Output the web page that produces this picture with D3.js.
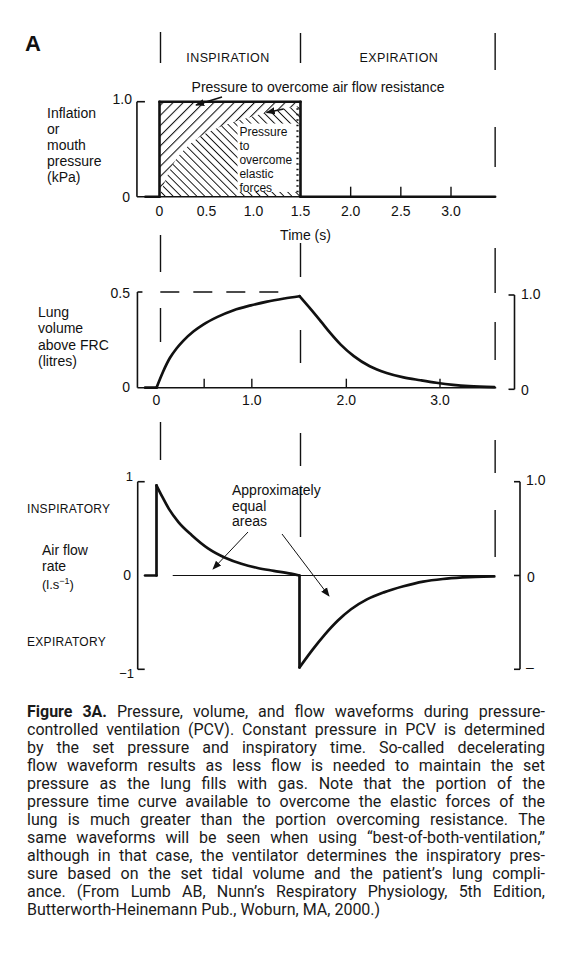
<!DOCTYPE html>
<html><head><meta charset="utf-8">
<script src="https://cdn.jsdelivr.net/npm/d3@7"></script>
<style>body{margin:0;background:#fff}svg{display:block}</style>
</head><body>
<script>
// ---------------- DATA ----------------
const phaseLabels = ["INSPIRATION", "EXPIRATION"];
const phaseLabelTimes = [0.75, 2.5];
const phaseTimes = [0, 1.5, 3.44];

const pressureTimes  = [-0.15, 0, 0, 1.5, 1.5, 3.44];
const pressureValues = [0, 0, 1, 1, 0, 0];
const elasticTimes  = [0, 0.07, 0.15, 0.29, 0.5, 0.64, 0.78, 0.99, 1.21, 1.5];
const elasticValues = [0, 0.19, 0.35, 0.52, 0.67, 0.735, 0.785, 0.845, 0.905, 0.955];

const volumeTimes  = [-0.12, 0, 0.07, 0.14, 0.21, 0.28, 0.39, 0.49, 0.64, 0.81, 0.99, 1.16, 1.34, 1.5,
                      1.62, 1.73, 1.83, 1.94, 2.08, 2.25, 2.43, 2.61, 2.79, 2.96, 3.14, 3.31, 3.58];
const volumeValues = [0, 0, 0.085, 0.155, 0.205, 0.245, 0.295, 0.33, 0.37, 0.405, 0.43, 0.45, 0.466, 0.478,
                      0.41, 0.345, 0.285, 0.225, 0.165, 0.112, 0.077, 0.054, 0.039, 0.026, 0.015, 0.008, 0.003];

const flowTimes  = [-0.12, 0, 0, 0.06, 0.13, 0.23, 0.37, 0.54, 0.72, 0.89, 1.06, 1.23, 1.41, 1.5,
                    1.5, 1.64, 1.77, 1.91, 2.05, 2.22, 2.40, 2.61, 2.82, 3.03, 3.24, 3.38, 3.58];
const flowValues = [0, 0, 0.96, 0.84, 0.71, 0.57, 0.43, 0.29, 0.19, 0.125, 0.08, 0.05, 0.02, 0,
                    -0.98, -0.79, -0.63, -0.48, -0.36, -0.255, -0.18, -0.115, -0.065, -0.037, -0.021, -0.014, -0.01];

const pressureTickValues = [0, 0.5, 1, 1.5, 2, 2.5, 3];
const pressureTickLabels = ["0", "0.5", "1.0", "1.5", "2.0", "2.5", "3.0"];
const pressureTickMarks  = [2, 2.5, 3];
const volumeTickValues = [0, 1, 2, 3];
const volumeTickLabels = ["0", "1.0", "2.0", "3.0"];
const volumeTickMarks  = [0.5, 1, 2, 3];

const captionLines = [
  "Figure 3A. Pressure, volume, and flow waveforms during pressure-",
  "controlled ventilation (PCV). Constant pressure in PCV is determined",
  "by the set pressure and inspiratory time. So-called decelerating",
  "flow waveform results as less flow is needed to maintain the set",
  "pressure as the lung fills with gas. Note that the portion of the",
  "pressure time curve available to overcome the elastic forces of the",
  "lung is much greater than the portion overcoming resistance. The",
  "same waveforms will be seen when using \u201cbest-of-both-ventilation,\u201d",
  "although in that case, the ventilator determines the inspiratory pres-",
  "sure based on the set tidal volume and the patient\u2019s lung compli-",
  "ance. (From Lumb AB, Nunn\u2019s Respiratory Physiology, 5th Edition,",
  "Butterworth-Heinemann Pub., Woburn, MA, 2000.)"
];
const captionBoldWords = 2;

// ---------------- SETUP ----------------
const W = 565, H = 957;
const INK = "#111";
const FONT = "'Liberation Sans', Arial, Helvetica, sans-serif";
const CAPFONT = "Roboto, 'Liberation Sans', Arial, sans-serif";

const svg = d3.select("body").append("svg").attr("width", W).attr("height", H)
  .attr("font-family", FONT).attr("fill", INK);
svg.append("rect").attr("width", W).attr("height", H).attr("fill", "#fff");

const defs = svg.append("defs");
function hatch(id, size, angle, sw) {
  const p = defs.append("pattern").attr("id", id).attr("patternUnits", "userSpaceOnUse")
    .attr("width", size).attr("height", size).attr("patternTransform", `rotate(${angle})`);
  p.append("line").attr("x1", 0).attr("y1", 0).attr("x2", 0).attr("y2", size)
    .attr("stroke", INK).attr("stroke-width", sw);
}
hatch("hatchRes", 7.2, 45, 2.1);
hatch("hatchEl", 5.6, -45, 1.9);
defs.append("marker").attr("id", "arr").attr("viewBox", "0 0 10 10").attr("refX", 9).attr("refY", 5)
  .attr("markerWidth", 9).attr("markerHeight", 9).attr("markerUnits", "userSpaceOnUse").attr("orient", "auto")
  .append("path").attr("d", "M0,1 L10,5 L0,9 Z").attr("fill", INK);

// scales
const xP = d3.scaleLinear().domain([0, 1.5, 3]).range([159.5, 300.5, 451]);
const yP = d3.scaleLinear().domain([0, 1]).range([196.7, 101.7]);
const xV = d3.scaleLinear().domain([0, 1.5, 3]).range([156.5, 299.5, 440]);
const yV = d3.scaleLinear().domain([0, 0.5]).range([387.7, 292]);
const yVR = d3.scaleLinear().domain([0, 1]).range([389.3, 295]);
const yF = d3.scaleLinear().domain([-1, 1]).range([669.3, 481.7]);
const yFR = yF;

const line = (x1, y1, x2, y2, sw = 1.5) => svg.append("line")
  .attr("x1", x1).attr("y1", y1).attr("x2", x2).attr("y2", y2)
  .attr("stroke", INK).attr("stroke-width", sw);
const text = (x, y, s, size = 14, anchor = "start", extra = {}) => {
  const t = svg.append("text").attr("x", x).attr("y", y).attr("font-size", size)
    .attr("text-anchor", anchor).text(s);
  Object.entries(extra).forEach(([k, v]) => t.attr(k, v));
  return t;
};

function pieces(ts, vs, breaks) {
  const pts = ts.map((t, i) => [t, vs[i]]);
  const out = []; let cur = [pts[0]];
  for (let i = 1; i < pts.length; i++) {
    const p = pts[i], last = cur[cur.length - 1];
    if (p[0] === last[0]) {
      if (cur.length > 1) out.push(cur);
      out.push([last, p]); cur = [p];
    } else {
      cur.push(p);
      if (breaks.includes(p[0])) { out.push(cur); cur = [p]; }
    }
  }
  if (cur.length > 1) out.push(cur);
  return out;
}
function drawSeries(ts, vs, x, y, breaks, sw) {
  pieces(ts, vs, breaks).forEach(pc => {
    const gen = d3.line().x(d => x(d[0])).y(d => y(d[1]))
      .curve(pc.length > 2 ? d3.curveMonotoneX : d3.curveLinear);
    svg.append("path").attr("d", gen(pc)).attr("fill", "none").attr("stroke", INK)
      .attr("stroke-width", sw).attr("stroke-linejoin", "round").attr("stroke-linecap", "round");
  });
}

// ---------------- TITLE & PHASE MARKERS ----------------
text(25, 51, "A", 22, "start", {"font-weight": "bold"});
phaseLabels.forEach((l, i) => text(xP(phaseLabelTimes[i]) - 2, 62, l, 12.5, "middle", {"letter-spacing": 0.4}));

const markerSegments = [
  [[32, 63], [235, 272], [308, 342], [422, 460]],
  [[33, 63], [243, 277], [330, 363], [433, 466], [488, 537]],
  [[33, 70], [127, 167], [248, 293], [322, 360], [440, 473], [510, 557]]
];
phaseTimes.forEach((t, i) => {
  const x = xP(t) + (i === 0 ? 1 : 0);
  markerSegments[i].forEach(s => line(x, s[0], x, s[1], 1.4));
});

// ---------------- PANEL 1: PRESSURE ----------------
const elasticPts = elasticTimes.map((t, i) => [t, elasticValues[i]]);
svg.append("path").attr("fill", "url(#hatchRes)")
  .attr("d", d3.area().x(d => xP(d[0])).y0(d => yP(d[1])).y1(yP(1)).curve(d3.curveMonotoneX)(elasticPts));
svg.append("path").attr("fill", "url(#hatchEl)")
  .attr("d", d3.area().x(d => xP(d[0])).y0(yP(0)).y1(d => yP(d[1])).curve(d3.curveMonotoneX)(elasticPts));
// white box for the inner label
svg.append("rect").attr("x", xP(0.83)).attr("y", yP(0.77)).attr("width", xP(1.49) - xP(0.83))
  .attr("height", yP(0.05) - yP(0.77)).attr("fill", "#fff");
// dotted right edge of the elastic region
line(xP(1.5) - 3, yP(0.93), xP(1.5) - 3, yP(0), 2.2).attr("stroke-dasharray", "1.5,4");
["Pressure", "to", "overcome", "elastic", "forces"].forEach((s, i) =>
  text(xP(0.85), 136 + i * 13.9, s, 12));

// axes
const pAxisT = [-0.24, 3.44];
line(xP(pAxisT[0]), yP(0), xP(pAxisT[1]), yP(0), 1.6);
line(xP(pAxisT[0]), yP(0), xP(pAxisT[0]), yP(1), 1.6);
line(xP(pAxisT[0]), yP(1), xP(pAxisT[0]) + 8, yP(1), 1.6);
pressureTickMarks.forEach(t => line(xP(t), yP(0), xP(t), yP(0) - 10, 1.4));
pressureTickValues.forEach((t, i) => text(xP(t), 216, pressureTickLabels[i], 14, "middle"));
text(xP(1.55), 240, "Time (s)", 14, "middle");
text(132, 104, "1.0", 14, "end");
text(130, 202, "0", 14, "end");
["Inflation", "or", "mouth", "pressure", "(kPa)"].forEach((s, i) => text(47, 118 + i * 16, s, 14));

// pressure waveform
drawSeries(pressureTimes, pressureValues, xP, yP, [], 2.6);

// annotations
text(318, 92, "Pressure to overcome air flow resistance", 14, "middle");
svg.append("line").attr("x1", 222).attr("y1", 97).attr("x2", 196).attr("y2", 105)
  .attr("stroke", INK).attr("stroke-width", 1.6).attr("marker-end", "url(#arr)");
[[1.32, 1.14]].forEach(([a, b]) => {
  const ia = d3.bisectLeft(elasticTimes, a), ib = d3.bisectLeft(elasticTimes, b);
  const va = d3.interpolateNumber(elasticValues[ia - 1], elasticValues[ia])((a - elasticTimes[ia - 1]) / (elasticTimes[ia] - elasticTimes[ia - 1]));
  const vb = d3.interpolateNumber(elasticValues[ib - 1], elasticValues[ib])((b - elasticTimes[ib - 1]) / (elasticTimes[ib] - elasticTimes[ib - 1]));
  svg.append("line").attr("x1", xP(a)).attr("y1", yP(va)).attr("x2", xP(b)).attr("y2", yP(vb))
    .attr("stroke", INK).attr("stroke-width", 1.6).attr("marker-end", "url(#arr)");
});

// ---------------- PANEL 2: VOLUME ----------------
const vAxisT = [-0.2, 3.6];
line(xV(vAxisT[0]), yV(0), xV(vAxisT[1]), yV(0), 1.6);
line(xV(vAxisT[0]), yV(0), xV(vAxisT[0]), yV(0.5), 1.6);
line(xV(vAxisT[0]), yV(0.5), xV(vAxisT[0]) + 5, yV(0.5), 1.6);
line(xV(0.04), yV(0.5), xV(1.35), yV(0.5), 1.5).attr("stroke-dasharray", "19,14");
volumeTickMarks.forEach(t => line(xV(t), yV(0), xV(t), yV(0) - 9, 1.4));
volumeTickValues.forEach((t, i) => text(xV(t), 405, volumeTickLabels[i], 14, "middle"));
text(130, 297.5, "0.5", 14, "end");
text(130, 392, "0", 14, "end");
["Lung", "volume", "above FRC", "(litres)"].forEach((s, i) => text(38, 317 + i * 16.3, s, 14));
// right bracket
const rbx = 514.5;
line(rbx, yVR(0), rbx, yVR(1), 1.6);
line(rbx - 6, yVR(1), rbx, yVR(1), 1.6);
line(rbx - 6, yVR(0), rbx, yVR(0), 1.6);
text(521, 299, "1.0", 14);
text(521, 395, "0", 14);

drawSeries(volumeTimes, volumeValues, xV, yV, [0, 1.5], 2.7);

// ---------------- PANEL 3: FLOW ----------------
const fbx = 137.7;
line(fbx, yF(1), fbx, yF(-1), 1.6);
line(fbx, yF(1), fbx + 7, yF(1), 1.6);
line(fbx, yF(-1), fbx + 7, yF(-1), 1.6);
text(133, 481, "1", 13, "end");
text(131, 580, "0", 14, "end");
text(134, 678, "\u22121", 13, "end");
const rfx = 520;
line(rfx, yFR(1), rfx, yFR(-1), 1.6);
[1, 0, -1].forEach(v => line(rfx - 6, yFR(v), rfx, yFR(v), 1.6));
text(526, 485, "1.0", 14);
text(527, 581.5, "0", 14);
text(526, 672, "\u2013", 14);

// thin zero reference line
line(xV(0.17), yF(0), xV(3.58), yF(0), 1.2);

text(27, 513, "INSPIRATORY", 12, "start", {"letter-spacing": 0.3});
text(27, 646, "EXPIRATORY", 12, "start", {"letter-spacing": 0.3});
text(42, 555, "Air flow", 14);
text(42, 571, "rate", 14);
const lt = text(42, 589, "(l.s", 13);
lt.append("tspan").attr("font-size", 9).attr("dy", -5).text("\u22121");
lt.append("tspan").attr("dy", 5).text(")");

drawSeries(flowTimes, flowValues, xV, yF, [0, 1.5], 2.7);

["Approximately", "equal", "areas"].forEach((s, i) => text(232, 495 + i * 15.5, s, 14));
svg.append("line").attr("x1", 248).attr("y1", 532).attr("x2", 213).attr("y2", 569)
  .attr("stroke", INK).attr("stroke-width", 1).attr("marker-end", "url(#arr)");
svg.append("line").attr("x1", 282).attr("y1", 534).attr("x2", 329).attr("y2", 596)
  .attr("stroke", INK).attr("stroke-width", 1).attr("marker-end", "url(#arr)");

// ---------------- CAPTION (justified) ----------------
const capLeft = 27, capRight = 545, capTop = 716.5, capLH = 18.05;
const capW = capRight - capLeft;
const g = svg.append("g").attr("font-family", CAPFONT).attr("fill", "#1a1a1a");
function wordsOf(i) {
  return captionLines[i].split(" ").map((w, j) => ({w, bold: i === 0 && j < captionBoldWords}));
}
function measure(w, bold, fs) {
  const t = g.append("text").attr("font-size", fs).attr("font-weight", bold ? "bold" : "normal").text(w);
  const len = t.node().getComputedTextLength(); t.remove(); return len;
}
const baseFs = 16;
const spaceW = measure("a a", false, baseFs) - measure("aa", false, baseFs);
let maxNat = 0;
captionLines.forEach((l, i) => {
  const ws = wordsOf(i);
  const nat = d3.sum(ws, d => measure(d.w, d.bold, baseFs)) + spaceW * (ws.length - 1);
  if (i < captionLines.length - 1) maxNat = Math.max(maxNat, nat);
});
const capFs = Math.min(16, baseFs * capW / maxNat);
captionLines.forEach((l, i) => {
  const ws = wordsOf(i);
  const widths = ws.map(d => measure(d.w, d.bold, capFs));
  const last = i === captionLines.length - 1;
  const gap = last ? spaceW * capFs / baseFs : (capW - d3.sum(widths)) / (ws.length - 1);
  let x = capLeft;
  ws.forEach((d, j) => {
    g.append("text").attr("x", x).attr("y", capTop + i * capLH).attr("font-size", capFs)
      .attr("font-weight", d.bold ? "bold" : "normal").text(d.w);
    x += widths[j] + gap;
  });
});
</script>
</body></html>
